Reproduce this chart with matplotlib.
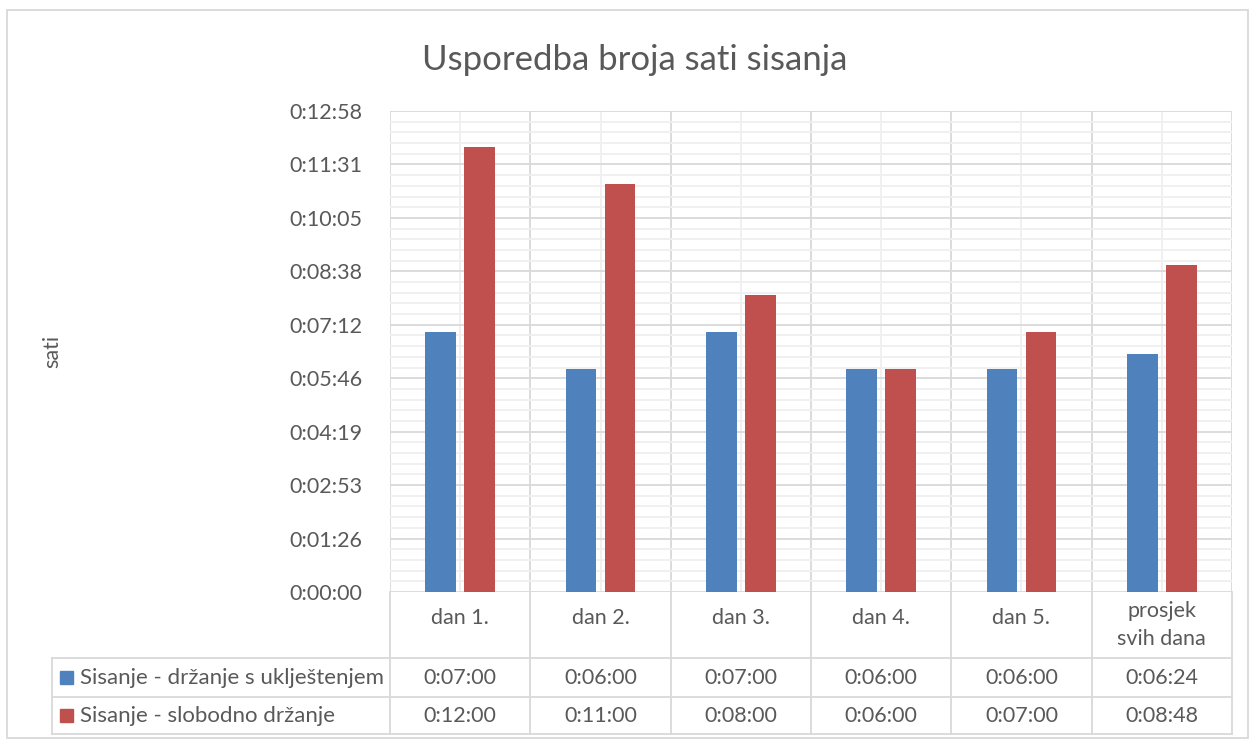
import matplotlib
matplotlib.use("Agg")
import matplotlib.pyplot as plt
from matplotlib.lines import Line2D
from matplotlib.patches import Rectangle

plt.rcParams['font.family'] = ['Lato', 'DejaVu Sans']

categories = ["dan 1.", "dan 2.", "dan 3.", "dan 4.", "dan 5.", "prosjek\nsvih dana"]
series_names = ["Sisanje - držanje s uklještenjem", "Sisanje - slobodno držanje"]
# trajanje u sekundama
uklijesteno = [420, 360, 420, 360, 360, 384]
slobodno = [720, 660, 480, 360, 420, 528]
colors = ["#4F81BD", "#C0504D"]

W, H = 1250, 740
text_col = "#595959"
grid_major = "#D9D9D9"
grid_minor = "#EFEFEF"
fs = 15.5


def fx(x):
    return x / W


def fy(y):
    return 1 - y / H


def hms(s):
    s = int(round(s))
    return "%d:%02d:%02d" % (s // 3600, (s % 3600) // 60, s % 60)


fig = plt.figure(figsize=(12.5, 7.4), dpi=100)
left, right, top, bottom = 390, 1232, 111, 592
ax = fig.add_axes([fx(left), fy(bottom), fx(right - left), (bottom - top) / H])

step = 86.4
n = len(categories)
off = 0.139
w = 0.22
xs = list(range(n))
ax.bar([x - off for x in xs], uklijesteno, w, color=colors[0], zorder=3)
ax.bar([x + off for x in xs], slobodno, w, color=colors[1], zorder=3)

ax.set_xlim(-0.5, n - 0.5)
ax.set_ylim(0, 9 * step)
ax.set_yticks([k * step for k in range(10)])
ax.set_yticks([k * step / 5 for k in range(46)], minor=True)
ax.set_yticklabels([hms(k * step) for k in range(10)], fontsize=fs, color=text_col)
ax.set_xticks([x + 0.5 for x in range(-1, n)])
ax.set_xticks(xs, minor=True)
ax.set_xticklabels([])
ax.tick_params(axis='both', which='both', length=0)
ax.tick_params(axis='y', pad=20)
ax.grid(which='major', color=grid_major, lw=1.3, zorder=0)
ax.grid(which='minor', color=grid_minor, lw=1.3, zorder=0)
for s in ax.spines.values():
    s.set_visible(False)

ax.set_ylabel("sati", fontsize=fs, color=text_col, labelpad=0)
ax.yaxis.set_label_coords(fx(62 - left) / fx(right - left), 0.5)

fig.text(fx(635), fy(60), "Usporedba broja sati sisanja", fontsize=25,
         color=text_col, ha='center', va='center')

# tablica podataka
col_w = (right - left) / n
row_y = [bottom, 658, 697, 734]
legend_left = 52
lc = grid_major


def hline(x0, x1, y):
    fig.add_artist(Line2D([fx(x0), fx(x1)], [fy(y), fy(y)], color=lc, lw=1.3))


def vline(x, y0, y1):
    fig.add_artist(Line2D([fx(x), fx(x)], [fy(y0), fy(y1)], color=lc, lw=1.3))


for i in range(n + 1):
    vline(left + i * col_w, bottom, row_y[3])
vline(legend_left, row_y[1], row_y[3])
for y in row_y[1:]:
    hline(legend_left, right, y)

for i, c in enumerate(categories):
    cx = left + (i + 0.5) * col_w
    cy = 625 if "\n" in c else 618
    fig.text(fx(cx), fy(cy), c, fontsize=fs, color=text_col, ha='center',
             va='center', linespacing=1.55)

for r, (name, vals) in enumerate(zip(series_names, [uklijesteno, slobodno])):
    cy = (row_y[r + 1] + row_y[r + 2]) / 2
    fig.add_artist(Rectangle((fx(60), fy(cy + 6.5)), fx(13), 13 / H,
                             color=colors[r]))
    fig.text(fx(80), fy(cy), name, fontsize=16, color=text_col, ha='left',
             va='center')
    for i, v in enumerate(vals):
        cx = left + (i + 0.5) * col_w
        fig.text(fx(cx), fy(cy), hms(v), fontsize=fs, color=text_col,
                 ha='center', va='center')

fig.add_artist(Rectangle((fx(7), fy(738)), fx(1241), 728 / H, fill=False,
                         edgecolor=lc, lw=1.3))

fig.savefig("out.png", dpi=100)
